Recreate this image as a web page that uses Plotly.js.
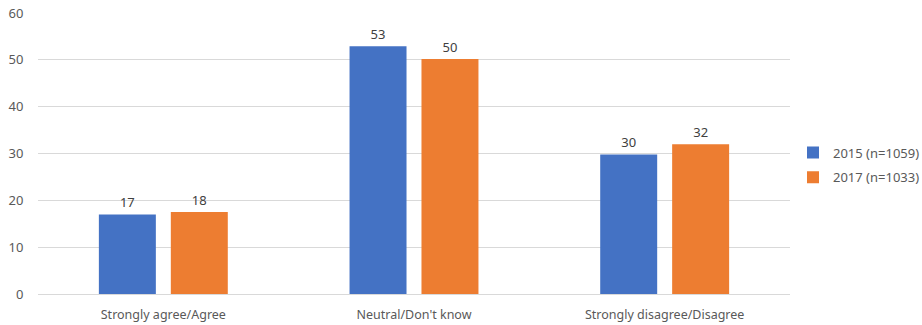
<!DOCTYPE html>
<html>
<head>
<meta charset="utf-8">
<script src="https://cdn.plot.ly/plotly-3.0.1.min.js"></script>
<style>html,body{margin:0;padding:0;background:#fff;}#chart{width:922px;height:325px;}</style>
</head>
<body>
<div id="chart"></div>
<script>
const categories = ["Strongly agree/Agree", "Neutral/Don't know", "Strongly disagree/Disagree"];
const series2015Name = "2015 (n=1059)";
const series2017Name = "2017 (n=1033)";
const values2015 = [17, 52.9, 29.8];
const values2017 = [17.5, 50.2, 32];
const labels2015 = ["17", "53", "30"];
const labels2017 = ["18", "50", "32"];
const yTicks = [0, 10, 20, 30, 40, 50, 60];

const fontFam = "Noto Sans, sans-serif";
const traces = [
  {type: 'bar', name: series2015Name, legendgroup: 'a', x: categories, y: values2015, text: labels2015,
   textposition: 'outside', cliponaxis: false, marker: {color: '#4472c4'},
   textfont: {color: '#404040', size: 13, family: fontFam}, hoverinfo: 'skip'},
  {type: 'bar', name: series2017Name, legendgroup: 'b', x: categories, y: values2017, text: labels2017,
   textposition: 'outside', cliponaxis: false, marker: {color: '#ed7d31'},
   textfont: {color: '#404040', size: 13, family: fontFam}, hoverinfo: 'skip'}
];
const layout = {
  width: 922, height: 325,
  margin: {l: 38, r: 132, t: 13, b: 31},
  paper_bgcolor: '#fff', plot_bgcolor: '#fff',
  font: {family: fontFam, color: '#595959', size: 13},
  bargap: 0.426, bargroupgap: 0.208,
  showlegend: true,
  legend: {xref: 'container', yref: 'container', x: 793 / 922, xanchor: 'left', y: 1 - 165 / 325, yanchor: 'middle',
           font: {size: 13, color: '#595959'}, tracegroupgap: 5, itemwidth: 30, bgcolor: 'rgba(0,0,0,0)'},
  xaxis: {type: 'category', showgrid: false, showline: true, linecolor: '#d9d9d9', linewidth: 1,
          ticks: 'outside', ticklen: 9, tickcolor: 'rgba(0,0,0,0)', tickfont: {size: 12.5, color: '#595959'}},
  yaxis: {range: [0, 60], tickvals: yTicks, ticktext: yTicks.map(String), showgrid: true, gridcolor: '#d9d9d9',
          gridwidth: 1, zeroline: false, showline: false, ticks: 'outside', ticklen: 11,
          tickcolor: 'rgba(0,0,0,0)', tickfont: {size: 13, color: '#595959'}}
};
Plotly.newPlot('chart', traces, layout, {displayModeBar: false, staticPlot: true});
</script>
</body>
</html>
